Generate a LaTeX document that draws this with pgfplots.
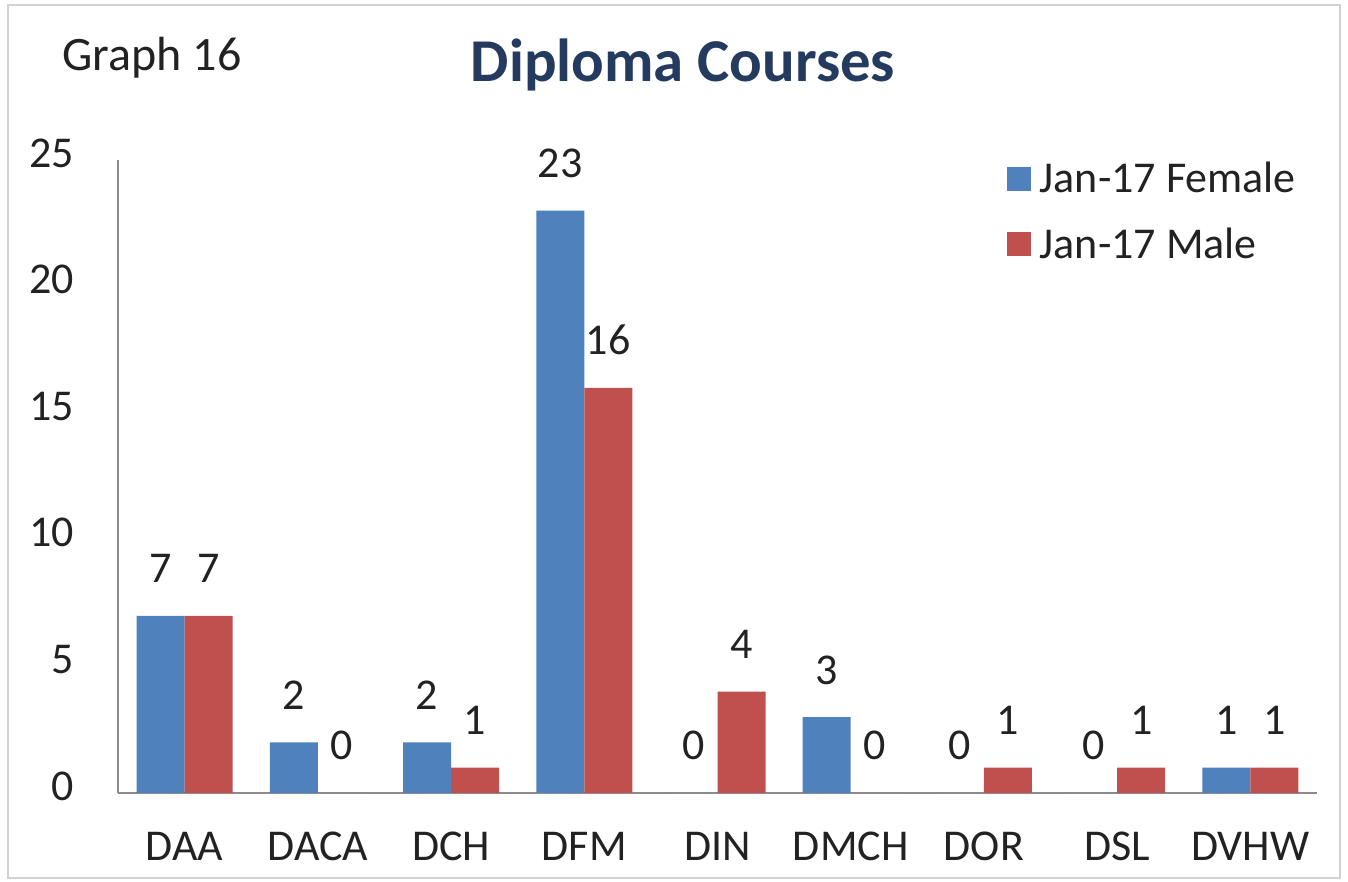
\documentclass[border=0pt]{standalone}
\usepackage{pgfplots}
\pgfplotsset{compat=1.18}
\usepackage{fontspec}
\setmainfont{Carlito}
\definecolor{fblue}{HTML}{4F81BD}
\definecolor{mred}{HTML}{C0504D}
\definecolor{titleblue}{HTML}{243A5E}
\definecolor{axgray}{HTML}{8C8C8C}
\definecolor{txt}{HTML}{222222}
\begin{document}
\begin{tikzpicture}
\useasboundingbox (-59pt,-44.5pt) rectangle (615pt,396.5pt);
\fill[white] (-59pt,-44.5pt) rectangle (615pt,396.5pt);
\draw[gray!35, line width=1pt] (-55pt,-42.5pt) rectangle (611pt,394pt);
\node[anchor=base, font=\fontsize{30.4}{35}\selectfont\bfseries, text=titleblue] at (282.5pt,355.5pt) {Diploma Courses};
\node[anchor=base west, inner sep=0pt, font=\fontsize{24}{28}\selectfont, text=txt] at (-28pt,361pt) {Graph 16};
\begin{axis}[
  at={(0,0)}, anchor=south west,
  scale only axis,
  width=599.5pt, height=316.5pt,
  xmin=-0.5, xmax=8.5, ymin=0, ymax=25,
  ybar=0pt, bar width=24pt,
  axis x line*=bottom, axis y line*=left,
  axis line style={draw=axgray, line width=0.8pt, -},
  major tick length=0pt,
  xtick=data,
  xticklabels={DAA,DACA,DCH,DFM,DIN,DMCH,DOR,DSL,DVHW},
  ytick={0,5,10,15,20,25},
  /pgf/number format/assume math mode=true,
  tick label style={font=\fontsize{22}{26}\selectfont, text=txt},
  yticklabel style={xshift=-18.5pt, yshift=3.5pt},
  xticklabel style={yshift=-16pt},
  nodes near coords,
  every node near coord/.append style={anchor=base, yshift=16.5pt, font=\fontsize{22}{26}\selectfont, text=txt},
  legend style={at={(0.736,1.01)}, anchor=north west, draw=none, fill=none,
    font=\fontsize{22}{26}\selectfont, text=txt, row sep=12pt,
    /tikz/every even column/.append style={column sep=2pt}},
  legend cell align=left,
  legend image code/.code={\fill[#1] (0pt,-6pt) rectangle (12pt,6pt);},
  legend style={/tikz/every odd column/.append style={column sep=2.5pt}},
]
\addplot[fill=fblue, draw=none] coordinates {(0,7) (1,2) (2,2) (3,23) (4,0) (5,3) (6,0) (7,0) (8,1)};
\addplot[fill=mred, draw=none] coordinates {(0,7) (1,0) (2,1) (3,16) (4,4) (5,0) (6,1) (7,1) (8,1)};
\legend{Jan-17 Female, Jan-17 Male}
\end{axis}
\end{tikzpicture}
\end{document}
